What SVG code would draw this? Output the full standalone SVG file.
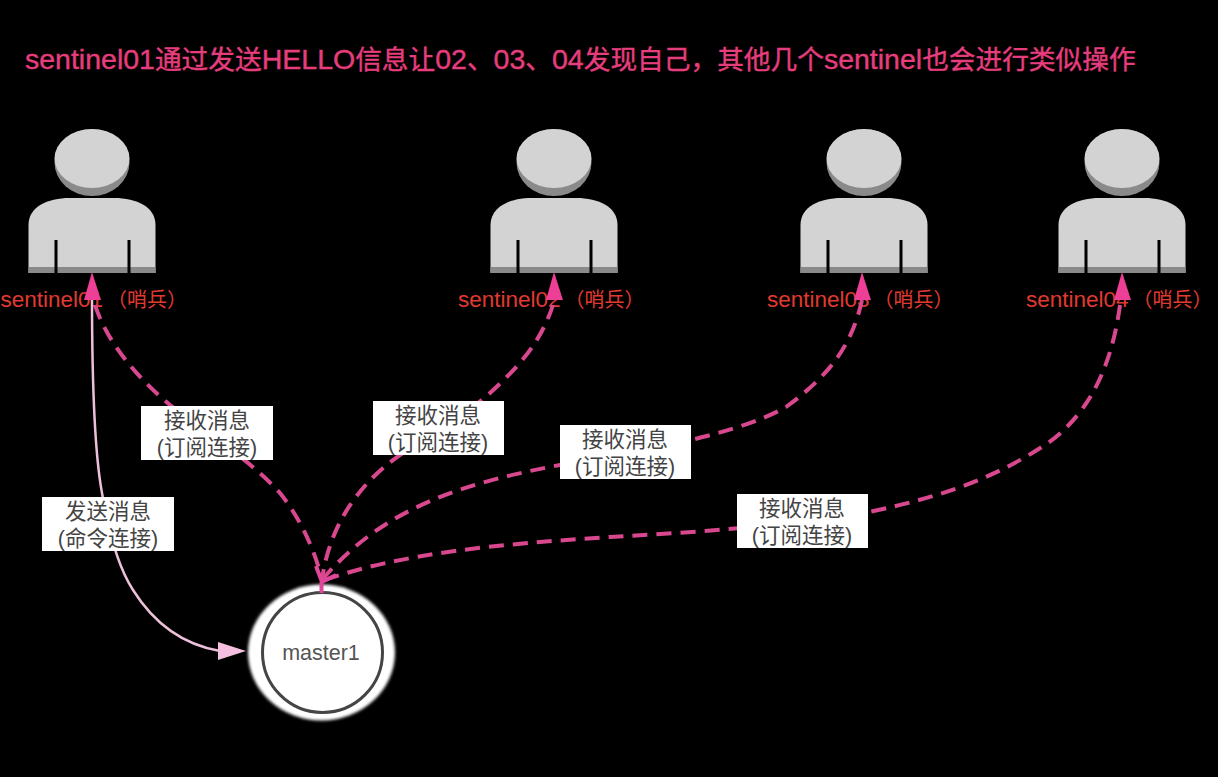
<svg xmlns="http://www.w3.org/2000/svg" width="1218" height="777" viewBox="0 0 1218 777">
<style>
.f{font-family:"Liberation Sans","Noto Sans CJK SC",sans-serif}
.title{font-size:26.700px;fill:#e63d7d;stroke:#e63d7d;stroke-width:.4}
.l{font-size:28.500px}
.sn{font-size:22.500px;fill:#e03a30}
.sc{font-size:20px}
.lb{font-size:21.500px;fill:#444;text-anchor:middle}
.box{fill:#fff}
.d{fill:none;stroke:#d9488f;stroke-width:4;stroke-dasharray:15 9}
.e{fill:none;stroke:#e0479a;stroke-width:4}
.s{fill:none;stroke:#edc0da;stroke-width:2.500}
.hd{fill:#ee3f96}
.hp{fill:#f5bfdf}
.body{fill:#d3d3d3}
.sh{fill:#8a8a8a}
</style>
<defs>
<filter id="soft" x="-10%" y="-10%" width="120%" height="120%"><feGaussianBlur stdDeviation="0.700"/></filter>
<filter id="glow" x="-10%" y="-10%" width="120%" height="120%"><feGaussianBlur stdDeviation="1.500"/></filter>
<g id="person" filter="url(#soft)">
<ellipse cx="0" cy="-110.500" rx="37.500" ry="33.500" class="sh"/>
<ellipse cx="0" cy="-114.500" rx="37.500" ry="29.500" class="body"/>
<path d="M-63.500 0V-48C-63.500 -66 -45 -75 -22 -75H22C45 -75 63.500 -66 63.500 -48V0Z" class="body"/>
<rect x="-63.500" y="-6" width="127" height="6" class="sh"/>
<rect x="-37.500" y="-33" width="3" height="33" fill="#000"/>
<rect x="35.500" y="-33" width="3" height="33" fill="#000"/>
</g>
</defs>
<rect width="1218" height="777" fill="#000"/>
<text class="f title" x="25" y="69"><tspan class="l">sentinel01</tspan>通过发送<tspan class="l">HELLO</tspan>信息让<tspan class="l">02</tspan>、<tspan class="l">03</tspan>、<tspan class="l">04</tspan>发现自己&#xFF0C;其他几个<tspan class="l">sentinel</tspan>也会进行类似操作</text>
<g id="sentinel01"><use href="#person" x="92" y="273"/><text class="f sn" x="0.500" y="307">sentinel01<tspan class="sc" dx="4">&#xFF08;哨兵&#xFF09;</tspan></text></g>
<g id="sentinel02"><use href="#person" x="554" y="273"/><text class="f sn" x="458" y="307">sentinel02<tspan class="sc" dx="4">&#xFF08;哨兵&#xFF09;</tspan></text></g>
<g id="sentinel03"><use href="#person" x="864" y="273"/><text class="f sn" x="767" y="307">sentinel03<tspan class="sc" dx="4">&#xFF08;哨兵&#xFF09;</tspan></text></g>
<g id="sentinel04"><use href="#person" x="1122" y="273"/><text class="f sn" x="1026" y="307">sentinel04<tspan class="sc" dx="4">&#xFF08;哨兵&#xFF09;</tspan></text></g>
<g id="master1">
<ellipse cx="321.500" cy="652.500" rx="73.500" ry="68" fill="#fff" filter="url(#glow)"/>
<circle cx="322.500" cy="652.500" r="60" fill="#fff" stroke="#444" stroke-width="3" filter="url(#soft)"/>
<text class="f" x="321" y="660" font-size="21.500" fill="#555" text-anchor="middle">master1</text>
</g>
<g id="connectors">
<path class="s" d="M92 296C92 380 94 450 102 493C110 540 120 570 133 590C155 625 185 645 220 651"/>
<path class="hp" d="M246 651L218 642V660Z"/>
<path class="d" d="M95 305C108 345 140 380 170 405C210 435 250 460 280 493C300 518 315 550 322 580"/>
<path class="d" d="M553 305C540 345 515 370 490 393C460 420 430 435 403 453C365 478 330 520 322 580"/>
<path class="d" d="M862 300C852 345 830 375 786 407C760 422 720 433 691 440C640 452 600 458 560 465C470 482 385 505 322 580"/>
<path class="d" d="M1120 305C1110 380 1080 420 1048 443C1000 475 950 495 869 512C800 525 700 532 610 537C500 544 400 553 322 581"/>
<path class="e" d="M316 566L322 582L336 575M321.500 582V593"/>
<path class="hd" d="M92 272L84 300H101Z"/>
<path class="hd" d="M554 272L546 300H563Z"/>
<path class="hd" d="M862 272L854 300H871Z"/>
<path class="hd" d="M1122 272L1114 300H1131Z"/>
</g>
<g id="label-send"><rect class="box" x="42" y="497" width="132" height="54"/><text class="f lb" x="108" y="519">发送消息</text><text class="f lb" x="108" y="546">(命令连接)</text></g>
<g id="label-r1"><rect class="box" x="141" y="406" width="132" height="54"/><text class="f lb" x="207" y="428">接收消息</text><text class="f lb" x="207" y="455">(订阅连接)</text></g>
<g id="label-r2"><rect class="box" x="373" y="401" width="131" height="54"/><text class="f lb" x="438" y="423">接收消息</text><text class="f lb" x="438" y="450">(订阅连接)</text></g>
<g id="label-r3"><rect class="box" x="560" y="425" width="131" height="54"/><text class="f lb" x="625" y="447">接收消息</text><text class="f lb" x="625" y="474">(订阅连接)</text></g>
<g id="label-r4"><rect class="box" x="737" y="494" width="131" height="54"/><text class="f lb" x="802" y="516">接收消息</text><text class="f lb" x="802" y="543">(订阅连接)</text></g>
</svg>
